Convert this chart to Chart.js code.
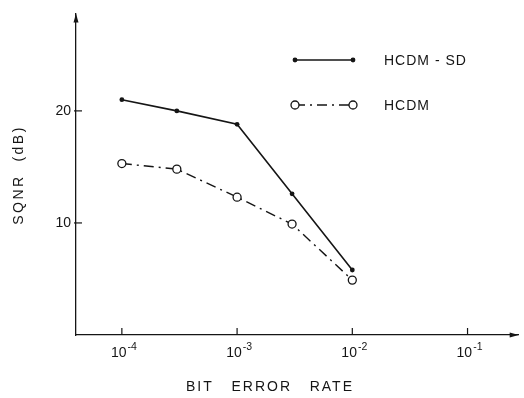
<!DOCTYPE html>
<html>
<head>
<meta charset="utf-8">
<script src="https://cdn.jsdelivr.net/npm/chart.js@4.4.1/dist/chart.umd.min.js"></script>
<style>
  html, body { margin: 0; padding: 0; background: #fff; }
  #wrap { width: 524px; height: 398px; }
</style>
</head>
<body>
<div id="wrap"><canvas id="chart" width="524" height="398"></canvas></div>
<script>
// values
const bitErrorRates = [1e-4, 3e-4, 1e-3, 3e-3, 1e-2];
const sqnrHcdmSd = [21.0, 20.0, 18.8, 12.6, 5.8];
const sqnrHcdm = [15.3, 14.8, 12.3, 9.9, 4.9];
const xTickValues = [1e-4, 1e-3, 1e-2, 1e-1];
const xTickExponents = ['-4', '-3', '-2', '-1'];
const yTickValues = [10, 20];
const seriesNames = ['HCDM - SD', 'HCDM'];
const xTitle = 'BIT   ERROR   RATE';
const yTitle = 'SQNR  (dB)';

const INK = '#151515';
const FONT = '"Liberation Sans", Arial, sans-serif';

function line(ctx, x1, y1, x2, y2) {
  ctx.beginPath();
  ctx.moveTo(x1, y1);
  ctx.lineTo(x2, y2);
  ctx.stroke();
}

function marker(ctx, ds, px, py) {
  ctx.setLineDash([]);
  ctx.beginPath();
  ctx.arc(px, py, ds.pointRadius, 0, Math.PI * 2);
  ctx.fillStyle = ds.pointBackgroundColor;
  ctx.fill();
  if (ds.pointBorderWidth) {
    ctx.lineWidth = ds.pointBorderWidth;
    ctx.strokeStyle = ds.pointBorderColor;
    ctx.stroke();
  }
}

const paperAxes = {
  id: 'paperAxes',
  afterDraw(chart) {
    const { ctx, chartArea } = chart;
    const x = chart.scales.x;
    const y = chart.scales.y;
    ctx.save();
    ctx.strokeStyle = INK;
    ctx.fillStyle = INK;
    ctx.lineWidth = 1.2;

    // tick marks (inward, like the original)
    yTickValues.forEach((v) => {
      const py = y.getPixelForValue(v);
      line(ctx, chartArea.left - 2, py, chartArea.left + 6, py);
    });
    xTickValues.forEach((v) => {
      const px = x.getPixelForValue(v);
      line(ctx, px, chartArea.bottom, px, chartArea.bottom - 7);
    });

    // arrow heads
    ctx.beginPath();
    ctx.moveTo(chartArea.left, chartArea.top);
    ctx.lineTo(chartArea.left - 2.5, chartArea.top + 9);
    ctx.lineTo(chartArea.left + 2.5, chartArea.top + 9);
    ctx.closePath();
    ctx.fill();
    ctx.beginPath();
    ctx.moveTo(chartArea.right, chartArea.bottom);
    ctx.lineTo(chartArea.right - 9, chartArea.bottom - 2.5);
    ctx.lineTo(chartArea.right - 9, chartArea.bottom + 2.5);
    ctx.closePath();
    ctx.fill();

    // x tick labels 10^n
    ctx.textBaseline = 'alphabetic';
    ctx.textAlign = 'left';
    xTickValues.forEach((v, i) => {
      const px = x.getPixelForValue(v);
      ctx.font = `14px ${FONT}`;
      const wBase = ctx.measureText('10').width;
      ctx.font = `10.5px ${FONT}`;
      const wExp = ctx.measureText(xTickExponents[i]).width;
      const start = px + 2 - (wBase + 1 + wExp) / 2;
      ctx.font = `14px ${FONT}`;
      ctx.fillText('10', start, 357);
      ctx.font = `10.5px ${FONT}`;
      ctx.fillText(xTickExponents[i], start + wBase + 1, 350);
    });

    // axis titles
    ctx.font = `14px ${FONT}`;
    ctx.textAlign = 'center';
    ctx.textBaseline = 'middle';
    ctx.letterSpacing = '2px';
    ctx.fillText(xTitle, 270, 387);
    ctx.save();
    ctx.translate(19, 175);
    ctx.rotate(-Math.PI / 2);
    ctx.letterSpacing = '2.5px';
    ctx.fillText(yTitle, 0, 0);
    ctx.restore();

    // legend
    const rows = [60, 105];
    chart.data.datasets.forEach((ds, i) => {
      const ly = rows[i];
      ctx.setLineDash(ds.borderDash || []);
      ctx.lineWidth = ds.borderWidth;
      ctx.strokeStyle = ds.borderColor;
      line(ctx, 295, ly, 353, ly);
      marker(ctx, ds, 295, ly);
      marker(ctx, ds, 353, ly);
      ctx.fillStyle = INK;
      ctx.font = `14px ${FONT}`;
      ctx.textAlign = 'left';
      ctx.letterSpacing = '1px';
      ctx.fillText(seriesNames[i], 384, ly + 1);
    });
    ctx.restore();
  },
};

const toPoints = (ys) => bitErrorRates.map((ber, i) => ({ x: ber, y: ys[i] }));

new Chart(document.getElementById('chart'), {
  type: 'line',
  data: {
    datasets: [
      {
        label: seriesNames[0],
        data: toPoints(sqnrHcdmSd),
        borderColor: INK,
        borderWidth: 1.6,
        pointRadius: 2.4,
        pointBackgroundColor: INK,
        pointBorderColor: INK,
        pointBorderWidth: 0,
        tension: 0,
      },
      {
        label: seriesNames[1],
        data: toPoints(sqnrHcdm),
        borderColor: INK,
        borderWidth: 1.4,
        borderDash: [10, 5, 2, 5],
        pointRadius: 4,
        pointBackgroundColor: '#ffffff',
        pointBorderColor: INK,
        pointBorderWidth: 1.3,
        tension: 0,
      },
    ],
  },
  options: {
    responsive: false,
    animation: false,
    clip: false,
    layout: { padding: { top: 8, right: 4, left: 0, bottom: 0 } },
    plugins: {
      legend: { display: false },
      tooltip: { enabled: false },
    },
    scales: {
      x: {
        type: 'logarithmic',
        position: 'bottom',
        min: Math.pow(10, -4.398),
        max: Math.pow(10, -0.556),
        afterBuildTicks: (scale) => {
          scale.ticks = xTickValues.map((value) => ({ value }));
        },
        afterFit: (scale) => {
          scale.height = 63;
        },
        ticks: { display: false },
        grid: { drawOnChartArea: false, drawTicks: false },
        border: { display: true, color: INK, width: 1.3 },
      },
      y: {
        type: 'linear',
        min: 0,
        max: 28.7,
        afterBuildTicks: (scale) => {
          scale.ticks = yTickValues.map((value) => ({ value }));
        },
        afterFit: (scale) => {
          scale.width = 76;
        },
        ticks: {
          color: INK,
          padding: 5,
          font: { family: FONT, size: 14 },
          callback: (value) => String(value),
        },
        grid: { drawOnChartArea: false, drawTicks: false },
        border: { display: true, color: INK, width: 1.3 },
      },
    },
  },
  plugins: [paperAxes],
});
</script>
</body>
</html>
